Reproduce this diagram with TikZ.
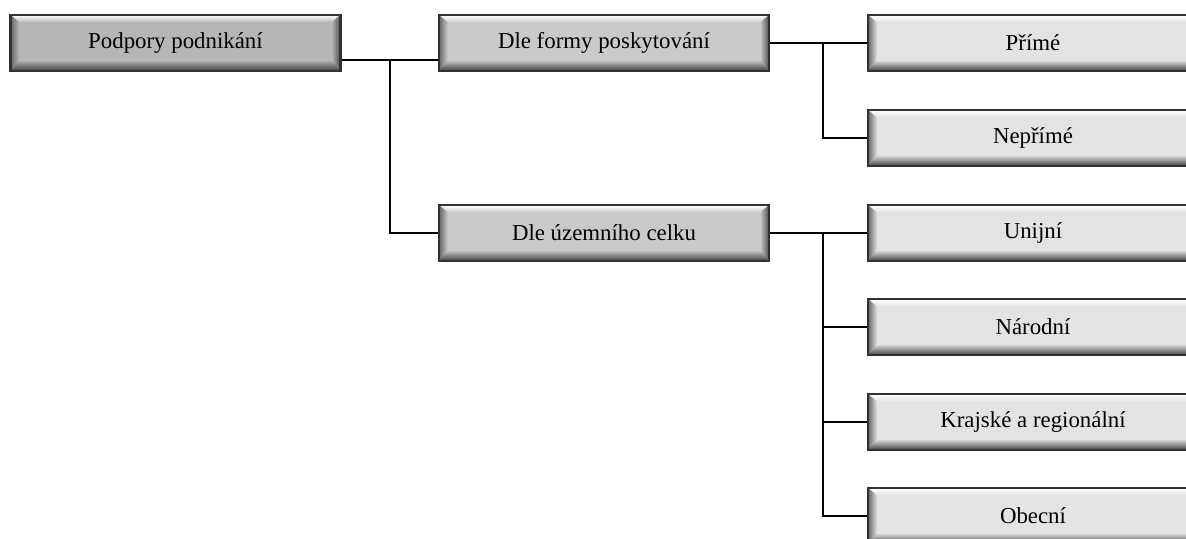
\documentclass[tikz,border=0pt]{standalone}
\usepackage{fontspec}
\setmainfont{Liberation Serif}
\usetikzlibrary{calc}

\definecolor{boxline}{RGB}{50,50,50}
\definecolor{facedark}{RGB}{182,182,182}
\definecolor{facemid}{RGB}{202,202,202}
\definecolor{facelight}{RGB}{227,227,227}

\tikzset{
  bevelbox/.style={draw=boxline, line width=1.2pt, fill=#1,
    minimum width=6.6cm, minimum height=1.12cm, inner sep=0pt,
    font=\fontsize{13}{15}\selectfont,
    path picture={
      \path (path picture bounding box.south west) coordinate (bl)
            (path picture bounding box.north east) coordinate (tr)
            (bl|-tr) coordinate (tl) (tr|-bl) coordinate (br);
      \shade[top color=white, bottom color=#1] (tl) -- (tr) -- ($(tr)+(-.18,-.15)$) -- ($(tl)+(.18,-.15)$) -- cycle;
      \shade[top color=#1, bottom color=black!75] ($(bl)+(.18,.22)$) -- ($(br)+(-.18,.22)$) -- (br) -- (bl) -- cycle;
      \shade[left color=black!60, right color=#1] (bl) -- ($(bl)+(.18,.22)$) -- ($(tl)+(.18,-.15)$) -- (tl) -- cycle;
      \shade[left color=#1, right color=black!70] (br) -- ($(br)+(-.18,.22)$) -- ($(tr)+(-.18,-.15)$) -- (tr) -- cycle;
    }},
  link/.style={draw=black, line width=0.6pt},
}

\begin{document}
\begin{tikzpicture}
  \clip (0,0) rectangle (23.72,-10.78);

  % root and first level
  \node[bevelbox=facedark] (root) at (3.51,-0.86) {Podpory podnikání};
  \node[bevelbox=facemid] (forma) at (12.08,-0.86) {Dle formy poskytování};
  \node[bevelbox=facemid] (uzemi) at (12.08,-4.66) {Dle územního celku};

  % leaves
  \node[bevelbox=facelight] (prime) at (20.66,-0.86) {Přímé};
  \node[bevelbox=facelight] (neprime) at (20.66,-2.76) {Nepřímé};
  \node[bevelbox=facelight] (unijni) at (20.66,-4.66) {Unijní};
  \node[bevelbox=facelight] (narodni) at (20.66,-6.54) {Národní};
  \node[bevelbox=facelight] (krajske) at (20.66,-8.44) {Krajské a regionální};
  \node[bevelbox=facelight] (obecni) at (20.66,-10.32) {Obecní};

  % connectors
  \coordinate (splitroot) at (7.8,-1.2);
  \coordinate (splitforma) at (16.46,-0.86);
  \coordinate (splituzemi) at (16.46,-4.66);

  \draw[link] ([yshift=-0.34cm]root.east) -- ([yshift=-0.34cm]forma.west);
  \draw[link] (splitroot) |- (uzemi.west);

  \draw[link] (forma.east) -- (prime.west);
  \draw[link] (splitforma) |- (neprime.west);

  \draw[link] (uzemi.east) -- (unijni.west);
  \draw[link] (splituzemi) |- (narodni.west);
  \draw[link] (splituzemi) |- (krajske.west);
  \draw[link] (splituzemi) |- (obecni.west);
\end{tikzpicture}
\end{document}
